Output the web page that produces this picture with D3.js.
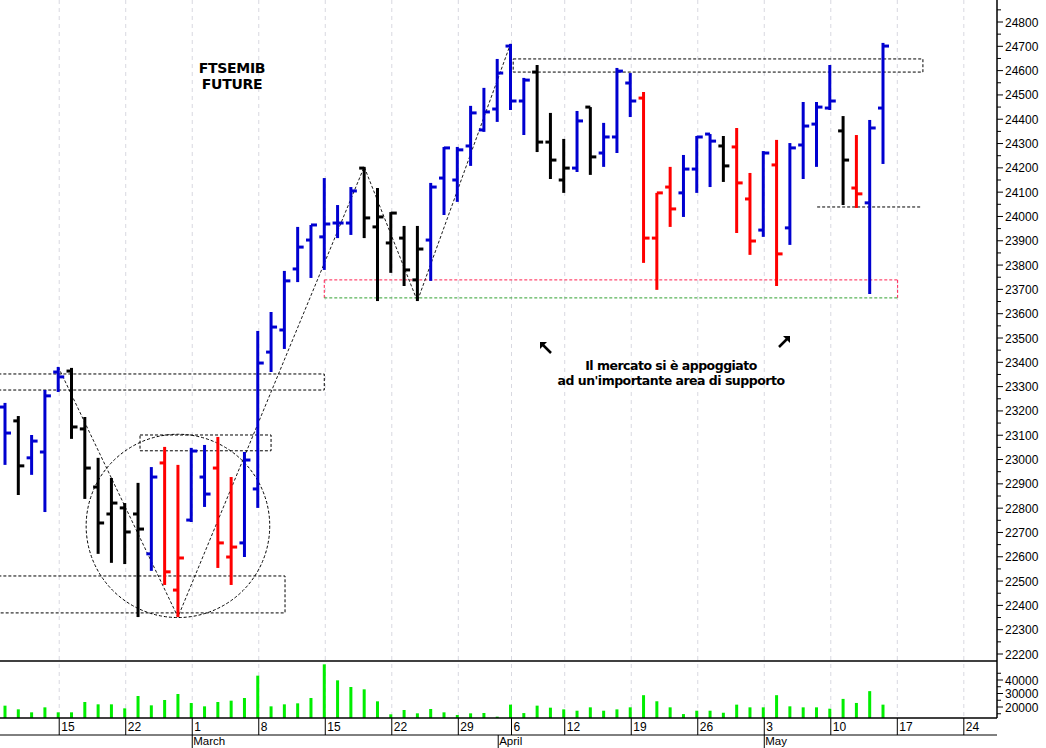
<!DOCTYPE html>
<html><head><meta charset="utf-8">
<script src="https://cdn.jsdelivr.net/npm/d3@7"></script>
<style>body{margin:0;background:#fff}svg{display:block}text{font-family:"Liberation Sans",Arial,sans-serif}</style>
</head><body><svg id="c" width="1046" height="748"></svg>
<script>
// ---- data ----
const highs=[23233,23179,23101,23286,23381,23377,23175,23007,22924,22821,22904,22969,23052,22978,23048,23060,23093,22928,23031,23529,23607,23776,23957,23965,24158,24047,24121,24204,24117,24018,23961,23961,24138,24286,24286,24455,24529,24648,24710,24570,24623,24426,24319,24434,24450,24385,24611,24590,24512,24097,24204,24253,24331,24339,24331,24364,24179,24269,24315,24302,24471,24471,24623,24413,24335,24397,24714];
const lows=[22978,22854,22937,22784,23278,23085,22838,22612,22575,22570,22352,22542,22484,22352,22743,22805,22554,22484,22599,22801,23360,23455,23730,23747,23780,23911,23924,23911,23652,23768,23714,23652,23735,24006,24060,24208,24348,24389,24438,24335,24265,24154,24097,24183,24171,24204,24261,24409,23809,23698,23957,23998,24097,24121,24142,23932,23842,23916,23714,23883,24154,24204,24438,24047,24035,23681,24216];
const opens=[23216,23159,23007,23031,23360,23364,23126,22887,22776,22801,22776,22612,22986,22463,22751,22928,22965,22599,22657,22879,23442,23533,23784,23903,23916,23973,23973,24199,23957,23891,23911,23739,23903,24158,24150,24290,24356,24442,24701,24475,24594,24306,24150,24199,24450,24261,24327,24549,24487,23911,24121,24097,24195,24339,24290,24286,24072,23944,24212,23953,24294,24380,24446,24352,24117,24056,24446];
const closes=[23109,22974,23076,23262,23340,23134,22965,22739,22821,22702,22714,22928,22538,22595,23035,22858,22657,22640,22998,23397,23545,23735,23874,23965,23969,23973,24105,23994,23998,24014,23780,23866,24121,24282,24274,24426,24430,24590,24475,24561,24306,24232,24199,24393,24245,24327,24598,24475,23911,24097,24031,24195,24327,24310,24208,24138,23899,24261,23846,24282,24372,24450,24475,24232,24093,24364,24701];
const barColors=("ukuuukkkkkk"+"urruurru"+"uuuuuuuu"+"kkkkk"+"uuuuuuuu"+"kkk"+"ukuuu"+"rrr"+"uuu"+"krrur"+"uuuu"+"kruu").split("");
const volumes=[20990,18270,16050,19750,16050,16050,23700,21980,21980,19010,28150,21230,25190,29630,22960,20490,23700,24690,26670,43210,20490,21980,22720,26670,51600,39750,34810,33090,24200,14570,17780,15310,18520,16050,14070,15310,15560,12840,21750,15500,21000,19500,18250,17250,19750,17250,18250,19750,28750,24250,19750,14750,17250,17250,15750,21750,19750,19750,28750,20500,19750,19750,18750,26000,23000,31750,21750];
const dayTicks=["15","22","1","8","15","22","29","6","12","19","26","3","10","17","24"];
const dayTickIdx=[4,9,14,19,24,29,34,38,42,47,52,57,62,67,72];
const months=["March","April","May"];
const monthIdx=[14,37,57];
const priceTicks=d3.range(22200,24801,100);
const volTicks=[20000,30000,40000];
const title=["FTSEMIB","FUTURE"];
const note=["Il mercato si è appoggiato","ad un'importante area di supporto"];

// ---- scales ----
const svg=d3.select("#c");
const x=d3.scaleLinear().domain([0,66]).range([5,883]);
const y=d3.scaleLinear().domain([22200,24800]).range([654,22]);
const yv=d3.scaleLinear().domain([20000,40000]).range([707,680]);
const right=997;
const col={u:"#0000d0",k:"#000",r:"#ff0000"};

// grid
const g=svg.append("g");
dayTickIdx.forEach(i=>{const xx=x(i)+1;
 g.append("line").attr("x1",xx).attr("x2",xx).attr("y1",0).attr("y2",718).attr("stroke","#d8d8e0").attr("stroke-dasharray","4,4");});

// annotations
const ann=svg.append("g").attr("fill","none").attr("stroke","#000").attr("stroke-dasharray","3,2").attr("stroke-width",1);
function box(i0,i1,p0,p1,c){ann.append("rect").attr("x",x(i0)).attr("y",y(p0)).attr("width",x(i1)-x(i0)).attr("height",y(p1)-y(p0)).attr("stroke",c||"#000");}
box(-0.5,24,23352,23286);
box(10.15,20,23101,23036);
box(-0.5,21.05,22521,22369);
box(38.2,69,24648,24594);
ann.append("line").attr("x1",x(24)).attr("x2",x(67.1)).attr("y1",y(23739)).attr("y2",y(23739)).attr("stroke","#ff2050");
ann.append("line").attr("x1",x(24)).attr("x2",x(24)).attr("y1",y(23739)).attr("y2",y(23665)).attr("stroke","#ff2050");
ann.append("line").attr("x1",x(67.1)).attr("x2",x(67.1)).attr("y1",y(23739)).attr("y2",y(23665)).attr("stroke","#ff2050");
ann.append("line").attr("x1",x(24)).attr("x2",x(67.1)).attr("y1",y(23665)).attr("y2",y(23665)).attr("stroke","#30a030");
ann.append("line").attr("x1",x(61.05)).attr("x2",x(68.9)).attr("y1",y(24039)).attr("y2",y(24039));
ann.append("ellipse").attr("cx",x(13)).attr("cy",y(22727)).attr("rx",x(6.9)-x(0)).attr("ry",y(22350)-y(22727)).attr("stroke","#000");
const zig=[[4,23381],[13,22352],[27,24204],[31,23652],[38,24710]];
ann.append("path").attr("d",d3.line().x(d=>x(d[0])).y(d=>y(d[1]))(zig)).attr("stroke-width",0.9);

// bars
const bars=svg.append("g").attr("stroke-width",3);
highs.forEach((h,i)=>{const c=col[barColors[i]],xx=x(i);
 bars.append("line").attr("x1",xx).attr("x2",xx).attr("y1",y(h)).attr("y2",y(lows[i])).attr("stroke",c);
 bars.append("line").attr("x1",xx-5).attr("x2",xx).attr("y1",y(opens[i])).attr("y2",y(opens[i])).attr("stroke",c);
 bars.append("line").attr("x1",xx).attr("x2",xx+6).attr("y1",y(closes[i])).attr("y2",y(closes[i])).attr("stroke",c);
});

// volume
const base=718;
volumes.forEach((v,i)=>{svg.append("rect").attr("x",x(i)-1.5).attr("width",3).attr("y",yv(v)).attr("height",base-yv(v)).attr("fill","#00ee00");});

// frames
svg.append("line").attr("x1",0).attr("x2",right).attr("y1",661).attr("y2",661).attr("stroke","#000").attr("stroke-width",1.5);
svg.append("line").attr("x1",0).attr("x2",right).attr("y1",718).attr("y2",718).attr("stroke","#000").attr("stroke-width",1.5);
svg.append("line").attr("x1",0).attr("x2",right).attr("y1",735).attr("y2",735).attr("stroke","#000");
svg.append("line").attr("x1",right).attr("x2",right).attr("y1",0).attr("y2",718).attr("stroke","#000").attr("stroke-width",1.5);

// price axis
const ay=svg.append("g");
d3.range(22150,24851,50).forEach(p=>{if(y(p)<2||y(p)>658)return;const major=p%100===0;
 ay.append("line").attr("x1",right).attr("x2",right+(major?6:4)).attr("y1",y(p)).attr("y2",y(p)).attr("stroke","#000");});
priceTicks.forEach(p=>ay.append("text").attr("x",1005).attr("y",y(p)+4.5).attr("font-size",12).text(p));
d3.range(15000,45001,5000).forEach(v=>{if(yv(v)<664||yv(v)>716)return;
 ay.append("line").attr("x1",right).attr("x2",right+(v%10000===0?6:4)).attr("y1",yv(v)).attr("y2",yv(v)).attr("stroke","#000");});
volTicks.forEach(v=>ay.append("text").attr("x",1005).attr("y",yv(v)+4.5).attr("font-size",12).text(v));

// date axis
dayTicks.forEach((t,k)=>{const xx=x(dayTickIdx[k])+1;
 svg.append("line").attr("x1",xx).attr("x2",xx).attr("y1",718).attr("y2",735).attr("stroke","#000");
 svg.append("text").attr("x",xx+2).attr("y",731).attr("font-size",12).text(t);});
months.forEach((m,k)=>{const xx=x(monthIdx[k])+1;
 svg.append("line").attr("x1",xx).attr("x2",xx).attr("y1",735).attr("y2",748).attr("stroke","#000");
 svg.append("text").attr("x",xx+1).attr("y",745).attr("font-size",11.5).text(m);});

// texts
title.forEach((t,k)=>svg.append("text").attr("x",232).attr("y",73+k*16).attr("text-anchor","middle").attr("font-size",14).attr("font-weight","bold").style("font-family","'DejaVu Sans'").attr("letter-spacing","-0.3").text(t));
note.forEach((t,k)=>svg.append("text").attr("x",671).attr("y",370+k*15).attr("text-anchor","middle").attr("font-size",12.5).attr("font-weight","bold").style("font-family","'DejaVu Sans'").attr("letter-spacing","-0.5").text(t));
function arrow(cx,cy,dx){ // dx=-1 points up-left, dx=1 points up-right
 svg.append("path").attr("d",d3.line()([[cx-dx*6,cy+6],[cx+dx*2,cy-2]])).attr("stroke","#000").attr("stroke-width",2.5);
 svg.append("path").attr("d",`M${cx+dx*5},${cy-5}L${cx-dx*2},${cy-5}L${cx+dx*5},${cy+2}Z`).attr("fill","#000");}
arrow(545,347,-1);
arrow(785,341,1);
</script></body></html>
